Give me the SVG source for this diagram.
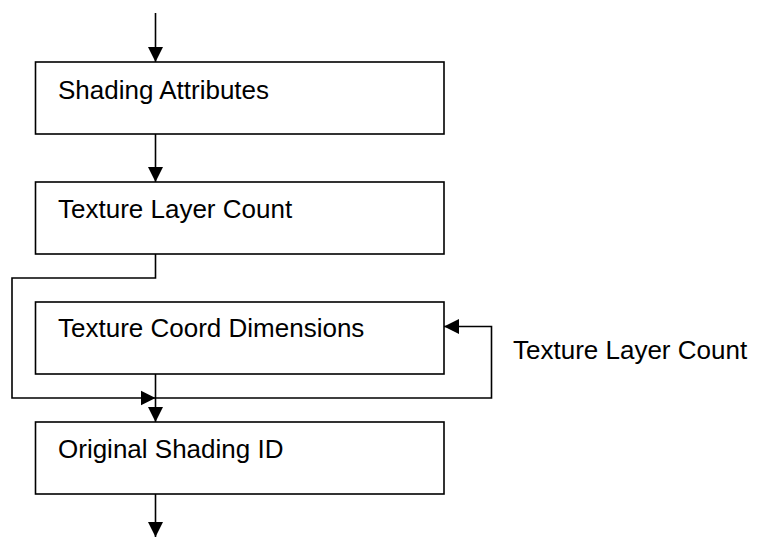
<svg xmlns="http://www.w3.org/2000/svg" width="758" height="537" viewBox="0 0 758 537">
<defs>
<marker id="ah" markerUnits="userSpaceOnUse" markerWidth="16" markerHeight="16" viewBox="0 0 16 16" refX="15" refY="8" orient="auto">
<path d="M0,0.5 L15,8 L0,15.5 Z" fill="#000"/>
</marker>
<style>
.box{fill:#fff;stroke:#000;stroke-width:1.6}
.lbl{font-family:"Liberation Sans",Arial,sans-serif;font-size:26px;fill:#000}
.con{fill:none;stroke:#000;stroke-width:1.6}
</style>
</defs>
<rect width="758" height="537" fill="#fff"/>
<g id="connectors">
<path class="con" d="M155.5,13 V62" marker-end="url(#ah)"/>
<path class="con" d="M155.5,134 V182" marker-end="url(#ah)"/>
<path class="con" d="M155.5,254 V278 H12 V398 H155.5" marker-end="url(#ah)"/>
<path class="con" d="M155.5,398 H491.5 V326.5 H444" marker-end="url(#ah)"/>
<path class="con" d="M155.5,374 V422" marker-end="url(#ah)"/>
<path class="con" d="M155.5,494 V537" marker-end="url(#ah)"/>
</g>
<g id="n1"><rect class="box" x="35.5" y="62" width="408.5" height="72"/><text class="lbl" x="58" y="99">Shading Attributes</text></g>
<g id="n2"><rect class="box" x="35.5" y="182" width="408.5" height="72"/><text class="lbl" x="58" y="218">Texture Layer Count</text></g>
<g id="n3"><rect class="box" x="35.5" y="302" width="408.5" height="72"/><text class="lbl" x="58" y="337">Texture Coord Dimensions</text></g>
<g id="n4"><rect class="box" x="35.5" y="422" width="408.5" height="72"/><text class="lbl" x="58" y="458">Original Shading ID</text></g>
<text id="loop-label" class="lbl" x="513" y="359">Texture Layer Count</text>
</svg>
